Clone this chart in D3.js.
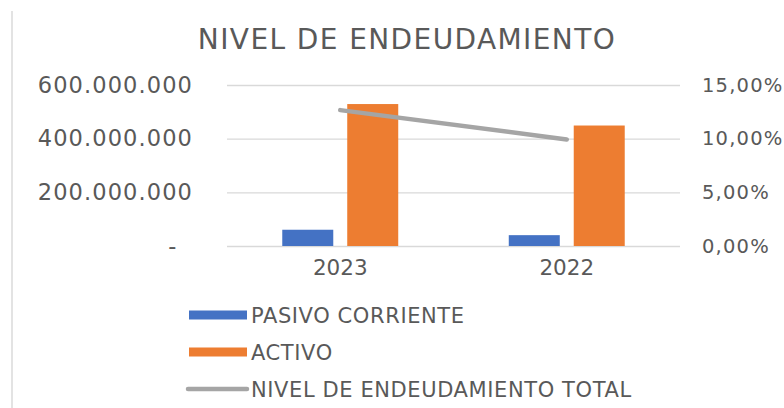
<!DOCTYPE html>
<html>
<head>
<meta charset="utf-8">
<script src="https://cdn.jsdelivr.net/npm/d3@7"></script>
<style>
  body { margin: 0; background: #fff; }
  svg { display: block; font-family: "DejaVu Sans", sans-serif; }
</style>
</head>
<body>
<svg width="784" height="408"></svg>
<script>
// data
const years = ['2023', '2022'];
const seriesNames = ['PASIVO CORRIENTE', 'ACTIVO'];
const pasivoCorriente = [60600000, 40400000];
const activo = [529000000, 449000000];
const nivelEndeudamiento = [0.1266, 0.0993];
const leftTicks = [0, 200000000, 400000000, 600000000];
const rightTicks = [0, 0.05, 0.10, 0.15];
const lineName = 'NIVEL DE ENDEUDAMIENTO TOTAL';
const title = 'NIVEL DE ENDEUDAMIENTO';

const colors = { 'PASIVO CORRIENTE': '#4472C4', 'ACTIVO': '#ED7D31' };
const lineColor = '#A5A5A5';
const textColor = '#595959';
const fontFamily = '"DejaVu Sans", sans-serif';

const svg = d3.select('svg');

// plot area
const margin = { left: 227, right: 104, top: 85, bottom: 162 };
const width = 784 - margin.left - margin.right;
const height = 408 - margin.top - margin.bottom;

const locale = d3.formatLocale({ decimal: ',', thousands: '.', grouping: [3], currency: ['$', ''] });
const fmtNum = locale.format(',');
const fmtPct = locale.format('.2%');

const rows = years.map((y, i) => ({
  year: y,
  values: [
    { key: seriesNames[0], value: pasivoCorriente[i] },
    { key: seriesNames[1], value: activo[i] }
  ],
  ratio: nivelEndeudamiento[i]
}));

// chart border (only the left edge shows)
svg.append('line')
  .attr('x1', 12).attr('x2', 12)
  .attr('y1', 11).attr('y2', 408)
  .attr('stroke', '#e3e3e3')
  .attr('stroke-width', 2);

svg.append('text')
  .text(title)
  .attr('x', 407)
  .attr('y', 49)
  .attr('text-anchor', 'middle')
  .attr('fill', textColor)
  .attr('font-family', fontFamily)
  .attr('font-size', 28)
  .attr('letter-spacing', 1.4);

const g = svg.append('g')
  .attr('transform', `translate(${margin.left},${margin.top})`);

const x0 = d3.scaleBand()
  .domain(years)
  .range([0, width])
  .paddingInner(0.488)
  .paddingOuter(0.244);

const x1 = d3.scaleBand()
  .domain(seriesNames)
  .range([0, x0.bandwidth()])
  .paddingInner(0.215);

const yLeft = d3.scaleLinear().domain([0, 600000000]).range([height, 0]);
const yRight = d3.scaleLinear().domain([0, 0.15]).range([height, 0]);

// left axis + gridlines
const leftAxis = g.append('g')
  .call(d3.axisLeft(yLeft)
    .tickValues(leftTicks)
    .tickSize(-width)
    .tickPadding(34)
    .tickFormat(d => d === 0 ? '-\u2007' : fmtNum(d)))
  .attr('font-family', fontFamily)
  .attr('font-size', 22.5);
leftAxis.select('.domain').remove();
leftAxis.selectAll('.tick line').attr('stroke', '#d9d9d9').attr('stroke-width', 1.4);
leftAxis.selectAll('.tick text').attr('fill', textColor).attr('letter-spacing', 1.1);

// right axis
const rightAxis = g.append('g')
  .attr('transform', `translate(${width},0)`)
  .call(d3.axisRight(yRight)
    .tickValues(rightTicks)
    .tickSize(0)
    .tickPadding(22)
    .tickFormat(fmtPct))
  .attr('font-family', fontFamily)
  .attr('font-size', 19.5);
rightAxis.select('.domain').remove();
rightAxis.selectAll('.tick text').attr('fill', textColor).attr('letter-spacing', 1.2);

// category axis
const xAxis = g.append('g')
  .attr('transform', `translate(0,${height})`)
  .call(d3.axisBottom(x0).tickSize(0).tickPadding(14))
  .attr('font-family', fontFamily)
  .attr('font-size', 21.5);
xAxis.select('.domain').remove();
xAxis.selectAll('.tick text').attr('fill', textColor);

// bars
g.selectAll('.group').data(rows)
  .enter()
  .append('g')
  .attr('class', 'group')
  .attr('transform', d => `translate(${x0(d.year)},0)`)
  .selectAll('rect')
  .data(d => d.values)
  .enter()
  .append('rect')
  .attr('x', d => x1(d.key))
  .attr('width', x1.bandwidth())
  .attr('y', d => yLeft(d.value))
  .attr('height', d => height - yLeft(d.value))
  .attr('fill', d => colors[d.key]);

// line on secondary axis
const line = d3.line()
  .x(d => x0(d.year) + x0.bandwidth() / 2)
  .y(d => yRight(d.ratio));

g.append('path')
  .datum(rows)
  .attr('d', line)
  .attr('fill', 'none')
  .attr('stroke', lineColor)
  .attr('stroke-width', 4.5)
  .attr('stroke-linecap', 'round');

// legend
const legend = svg.append('g').attr('transform', 'translate(189,315)');
const legendItems = seriesNames.concat([lineName]);

const item = legend.selectAll('g').data(legendItems)
  .enter()
  .append('g')
  .attr('transform', (d, i) => `translate(0,${i * 37})`);

item.filter(d => d !== lineName)
  .append('rect')
  .attr('x', 0)
  .attr('y', -4.5)
  .attr('width', 58)
  .attr('height', 9)
  .attr('fill', d => colors[d]);

item.filter(d => d === lineName)
  .append('line')
  .attr('x1', -1).attr('x2', 58)
  .attr('y1', 0).attr('y2', 0)
  .attr('stroke', lineColor)
  .attr('stroke-width', 4.5)
  .attr('stroke-linecap', 'round');

item.append('text')
  .text(d => d)
  .attr('x', 62)
  .attr('dy', '0.36em')
  .attr('font-family', fontFamily)
  .attr('font-size', 21)
  .attr('letter-spacing', 0.6)
  .attr('fill', textColor);
</script>
</body>
</html>
